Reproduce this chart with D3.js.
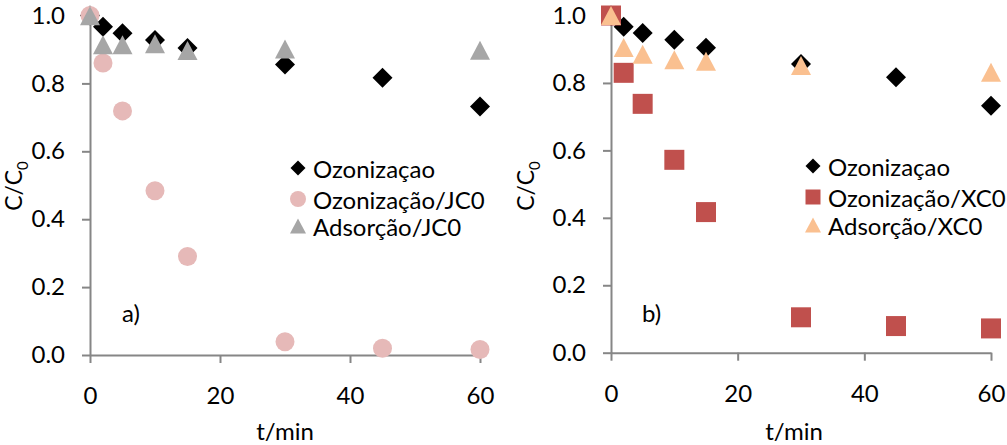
<!DOCTYPE html>
<html>
<head>
<meta charset="utf-8">
<script src="https://cdn.jsdelivr.net/npm/d3@7"></script>
<style>
  html, body { margin: 0; padding: 0; background: #fff; }
  svg { display: block; font-family: Lato, "Open Sans", sans-serif; }
</style>
</head>
<body>
<svg id="chart" width="1007" height="445"></svg>
<script>
// Sampling times (min)
const times = [0, 2, 5, 10, 15, 30, 45, 60];
const timesAds = [0, 2, 5, 10, 15, 30, 60];

// Ozonation alone (shared by both panels)
const ozonizacao = [1.0, 0.967, 0.948, 0.928, 0.904, 0.856, 0.817, 0.732];

// Panel a) JC0
const ozonizacaoJC0 = [1.0, 0.86, 0.719, 0.484, 0.29, 0.039, 0.02, 0.016];
const adsorcaoJC0 = [0.999, 0.914, 0.914, 0.917, 0.897, 0.901, 0.898];

// Panel b) XC0
const ozonizacaoXC0 = [1.0, 0.83, 0.738, 0.572, 0.417, 0.105, 0.079, 0.072];
const adsorcaoXC0 = [1.0, 0.905, 0.885, 0.869, 0.864, 0.852, 0.832];

const xTicks = [0, 20, 40, 60];
const yTicks = [0, 0.2, 0.4, 0.6, 0.8, 1.0];

const svg = d3.select("#chart");
const AXIS = "#868686";
const FONT = 24;

// marker path generators centred on the origin
const markers = {
  diamond: s => `M0,${-s}L${s},0L0,${s}L${-s},0Z`,
  circle: s => `M${s},0A${s},${s},0,1,1,${-s},0A${s},${s},0,1,1,${s},0Z`,
  triangle: s => `M0,${-s * 0.95}L${s},${s * 0.95}L${-s},${s * 0.95}Z`,
  square: s => `M${-s},${-s}H${s}V${s}H${-s}Z`
};

function panel(cfg) {
  const g = svg.append("g");
  const x = d3.scaleLinear().domain([0, 60]).range([cfg.x0, cfg.x1]);
  const y = d3.scaleLinear().domain([0, 1]).range([cfg.y0, cfg.y1]);

  // y axis
  const yAxis = d3.axisLeft(y).tickValues(yTicks).tickFormat(d3.format(".1f"))
    .tickSizeInner(8).tickSizeOuter(0).tickPadding(17);
  const ya = g.append("g").attr("transform", `translate(${cfg.x0},0)`).call(yAxis);
  ya.select(".domain").attr("stroke", AXIS).attr("stroke-width", 2);
  ya.selectAll(".tick line").attr("stroke", AXIS).attr("stroke-width", 2);
  ya.selectAll(".tick text").attr("font-size", FONT).attr("fill", "#000")
    .attr("font-family", "Lato, sans-serif");

  // x axis
  const xAxis = d3.axisBottom(x).tickValues(xTicks).tickFormat(d3.format("d"))
    .tickSizeInner(8).tickSizeOuter(0).tickPadding(24);
  const xa = g.append("g").attr("transform", `translate(0,${cfg.y0})`).call(xAxis);
  xa.select(".domain").attr("stroke", AXIS).attr("stroke-width", 2);
  xa.selectAll(".tick line").attr("stroke", AXIS).attr("stroke-width", 2);
  xa.selectAll(".tick text").attr("font-size", FONT).attr("fill", "#000")
    .attr("font-family", "Lato, sans-serif");

  // axis titles
  g.append("text").attr("x", cfg.xTitle[0]).attr("y", cfg.xTitle[1])
    .attr("text-anchor", "middle").attr("font-size", FONT).text("t/min");
  const yt = g.append("text")
    .attr("transform", `translate(${cfg.yTitle[0]},${cfg.yTitle[1]}) rotate(-90)`)
    .attr("text-anchor", "middle").attr("font-size", FONT - 1);
  yt.append("tspan").text("C/C");
  yt.append("tspan").attr("font-size", 15).attr("dy", 6).text("0");

  // panel tag
  g.append("text").attr("x", cfg.tag[0]).attr("y", cfg.tag[1])
    .attr("font-size", FONT).text(cfg.tagText);

  // data markers, drawn in series order
  cfg.series.forEach(s => {
    g.append("g").selectAll("path")
      .data(s.values.map((v, i) => ({ t: s.times[i], v })))
      .join("path")
      .attr("transform", d => `translate(${x(d.t)},${y(d.v)})`)
      .attr("d", markers[s.shape](s.size))
      .attr("fill", s.color);
  });

  // legend
  cfg.series.forEach((s, i) => {
    const ly = cfg.legend.y[i];
    g.append("path")
      .attr("transform", `translate(${cfg.legend.x},${ly})`)
      .attr("d", markers[s.shape](s.legendSize))
      .attr("fill", s.color);
    g.append("text").attr("x", cfg.legend.x + 15).attr("y", ly)
      .attr("dominant-baseline", "central").attr("font-size", FONT)
      .text(s.name);
  });
}

panel({
  x0: 90, x1: 480, y0: 355, y1: 15.5,
  xTitle: [285, 440], yTitle: [22, 186],
  tag: [122, 322], tagText: "a)",
  legend: { x: 298, y: [168, 199, 226] },
  series: [
    { name: "Ozonizaçao", shape: "diamond", times: times, values: ozonizacao, color: "#000000", size: 10, legendSize: 7.5 },
    { name: "Ozonização/JC0", shape: "circle", times: times, values: ozonizacaoJC0, color: "#E6B9B8", size: 9.5, legendSize: 8 },
    { name: "Adsorção/JC0", shape: "triangle", times: timesAds, values: adsorcaoJC0, color: "#A6A6A6", size: 10, legendSize: 8 }
  ]
});

panel({
  x0: 611, x1: 991, y0: 352.7, y1: 15.5,
  xTitle: [794, 440], yTitle: [534, 186],
  tag: [642, 322], tagText: "b)",
  legend: { x: 813, y: [166, 197, 225] },
  series: [
    { name: "Ozonizaçao", shape: "diamond", times: times, values: ozonizacao, color: "#000000", size: 10, legendSize: 7.5 },
    { name: "Ozonização/XC0", shape: "square", times: times, values: ozonizacaoXC0, color: "#C0504D", size: 10, legendSize: 7.5 },
    { name: "Adsorção/XC0", shape: "triangle", times: timesAds, values: adsorcaoXC0, color: "#FAC090", size: 10, legendSize: 8 }
  ]
});
</script>
</body>
</html>
